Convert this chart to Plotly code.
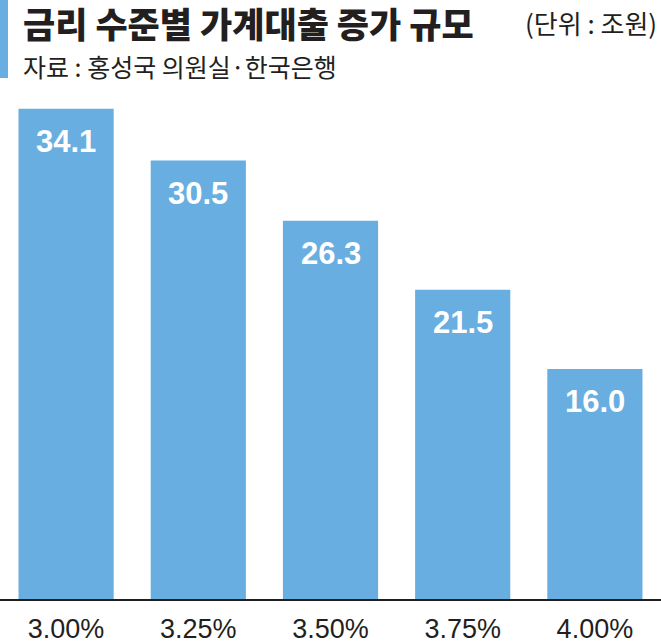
import plotly.graph_objects as go

# 금리 수준별 가계대출 증가 규모 (단위: 조원)
rates = ['3.00%', '3.25%', '3.50%', '3.75%', '4.00%']
values = [34.1, 30.5, 26.3, 21.5, 16.0]

bar_color = '#68aee0'
text_color = '#231f20'
W, H = 661, 644
top, bottom = 100, 45
plot_h = H - top - bottom
num_font = 'Liberation Sans, Arial, sans-serif'


def py(pix):
    # 픽셀 y -> paper 좌표
    return (H - bottom - pix) / plot_h


fig = go.Figure()
fig.add_trace(go.Bar(x=rates, y=values, marker_color=bar_color,
                     marker_line_width=0, hoverinfo='skip'))

# 막대 안쪽 수치
for r, v in zip(rates, values):
    fig.add_annotation(x=r, y=v, text=f'{v:.1f}', showarrow=False,
                       yanchor='middle', yshift=-33,
                       font=dict(family=num_font, size=31, color='white', weight='bold'))

# 제목
fig.add_annotation(xref='paper', yref='paper', x=21 / W, y=py(23),
                   xanchor='left', yanchor='middle', showarrow=False,
                   text='금리 수준별 가계대출 증가 규모',
                   font=dict(family='Noto Sans CJK KR', size=35, color=text_color, weight=900))
fig.add_annotation(xref='paper', yref='paper', x=659 / W, y=py(23),
                   xanchor='right', yanchor='middle', showarrow=False,
                   text='(단위 : 조원)',
                   font=dict(family='Noto Sans CJK KR', size=26, color=text_color))
fig.add_annotation(xref='paper', yref='paper', x=21 / W, y=py(66),
                   xanchor='left', yanchor='middle', showarrow=False,
                   text='자료 : 홍성국 의원실·한국은행',
                   font=dict(family='Noto Sans CJK KR', size=25, color=text_color))

# 왼쪽 파란 세로줄
fig.add_shape(type='rect', xref='paper', yref='paper',
              x0=0, x1=8 / W, y0=py(78), y1=py(0),
              fillcolor=bar_color, line_width=0)

fig.update_layout(
    width=W, height=H,
    margin=dict(l=0, r=0, t=top, b=bottom, pad=0),
    plot_bgcolor='white', paper_bgcolor='white',
    bargap=0.28, showlegend=False,
)
fig.update_xaxes(showline=True, linecolor='#231f20', linewidth=1.5,
                 showgrid=False, ticks='', ticklabelstandoff=5, automargin=False,
                 tickfont=dict(family=num_font, size=27, color=text_color))
fig.update_yaxes(range=[0, plot_h / 14.38], visible=False, showgrid=False,
                 automargin=False)

# 페이지 기본 여백 제거, 모드바 숨김
fig.write_html('out.html', config={'displayModeBar': False},
               post_script="document.body.style.margin='0';")
